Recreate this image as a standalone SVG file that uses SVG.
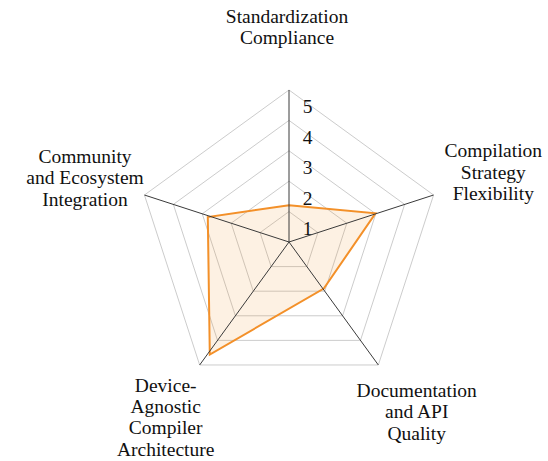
<svg xmlns="http://www.w3.org/2000/svg" width="548" height="461" viewBox="0 0 548 461">
  <style>
    .grid { fill: none; stroke: #cccccc; stroke-width: 1; }
    .axis { stroke: #3a3a3a; stroke-width: 1; }
    .series { fill: #f39029; fill-opacity: 0.13; stroke: #f39029; stroke-width: 2; stroke-linejoin: miter; }
    .lbl { font-family: "Liberation Serif", "Times New Roman", serif; font-size: 19.5px; fill: #111111; text-anchor: middle; }
    .tick { font-family: "Liberation Serif", "Times New Roman", serif; font-size: 19.5px; fill: #111111; text-anchor: middle; }
  </style>
  <rect width="548" height="461" fill="#ffffff"/>

  <!-- concentric pentagon grid, centre (289,242), step 30.4 -->
  <g id="grid">
    <polygon class="grid" points="289,211.6 317.91,232.61 306.87,266.59 271.13,266.59 260.09,232.61"/>
    <polygon class="grid" points="289,181.2 346.82,223.21 324.74,291.19 253.26,291.19 231.18,223.21"/>
    <polygon class="grid" points="289,150.8 375.74,213.82 342.61,315.78 235.39,315.78 202.26,213.82"/>
    <polygon class="grid" points="289,120.4 404.65,204.42 360.47,340.38 217.53,340.38 173.35,204.42"/>
    <polygon class="grid" points="289,90 433.56,195.03 378.34,364.97 199.66,364.97 144.44,195.03"/>
  </g>

  <!-- data series -->
  <g id="series">
    <polygon class="series" points="289,205.3 375.5,213.3 323.8,288.6 209.8,354.5 207.8,217"/>
  </g>

  <!-- spokes -->
  <g id="connectors">
    <line class="axis" x1="289" y1="242" x2="289" y2="90"/>
    <line class="axis" x1="289" y1="242" x2="433.56" y2="195.03"/>
    <line class="axis" x1="289" y1="242" x2="378.34" y2="364.97"/>
    <line class="axis" x1="289" y1="242" x2="199.66" y2="364.97"/>
    <line class="axis" x1="289" y1="242" x2="144.44" y2="195.03"/>
  </g>

  <!-- radial scale -->
  <g id="scale">
    <text class="tick" x="307.5" y="235">1</text>
    <text class="tick" x="307.5" y="204.5">2</text>
    <text class="tick" x="307.5" y="174">3</text>
    <text class="tick" x="307.5" y="143.6">4</text>
    <text class="tick" x="307.5" y="113.2">5</text>
  </g>

  <g id="node-standardization">
    <text class="lbl" x="287" y="22.7">Standardization</text>
    <text class="lbl" x="287" y="44.2">Compliance</text>
  </g>

  <g id="node-compilation">
    <text class="lbl" x="493.3" y="157">Compilation</text>
    <text class="lbl" x="493.3" y="178.5">Strategy</text>
    <text class="lbl" x="493.3" y="200">Flexibility</text>
  </g>

  <g id="node-documentation">
    <text class="lbl" x="416.7" y="396.7">Documentation</text>
    <text class="lbl" x="416.7" y="418.2">and API</text>
    <text class="lbl" x="416.7" y="439.7">Quality</text>
  </g>

  <g id="node-device">
    <text class="lbl" x="165.7" y="391.7">Device-</text>
    <text class="lbl" x="165.7" y="413">Agnostic</text>
    <text class="lbl" x="165.7" y="434.3">Compiler</text>
    <text class="lbl" x="165.7" y="455.6">Architecture</text>
  </g>

  <g id="node-community">
    <text class="lbl" x="85" y="162.7">Community</text>
    <text class="lbl" x="85" y="184.2">and Ecosystem</text>
    <text class="lbl" x="85" y="205.7">Integration</text>
  </g>
</svg>
